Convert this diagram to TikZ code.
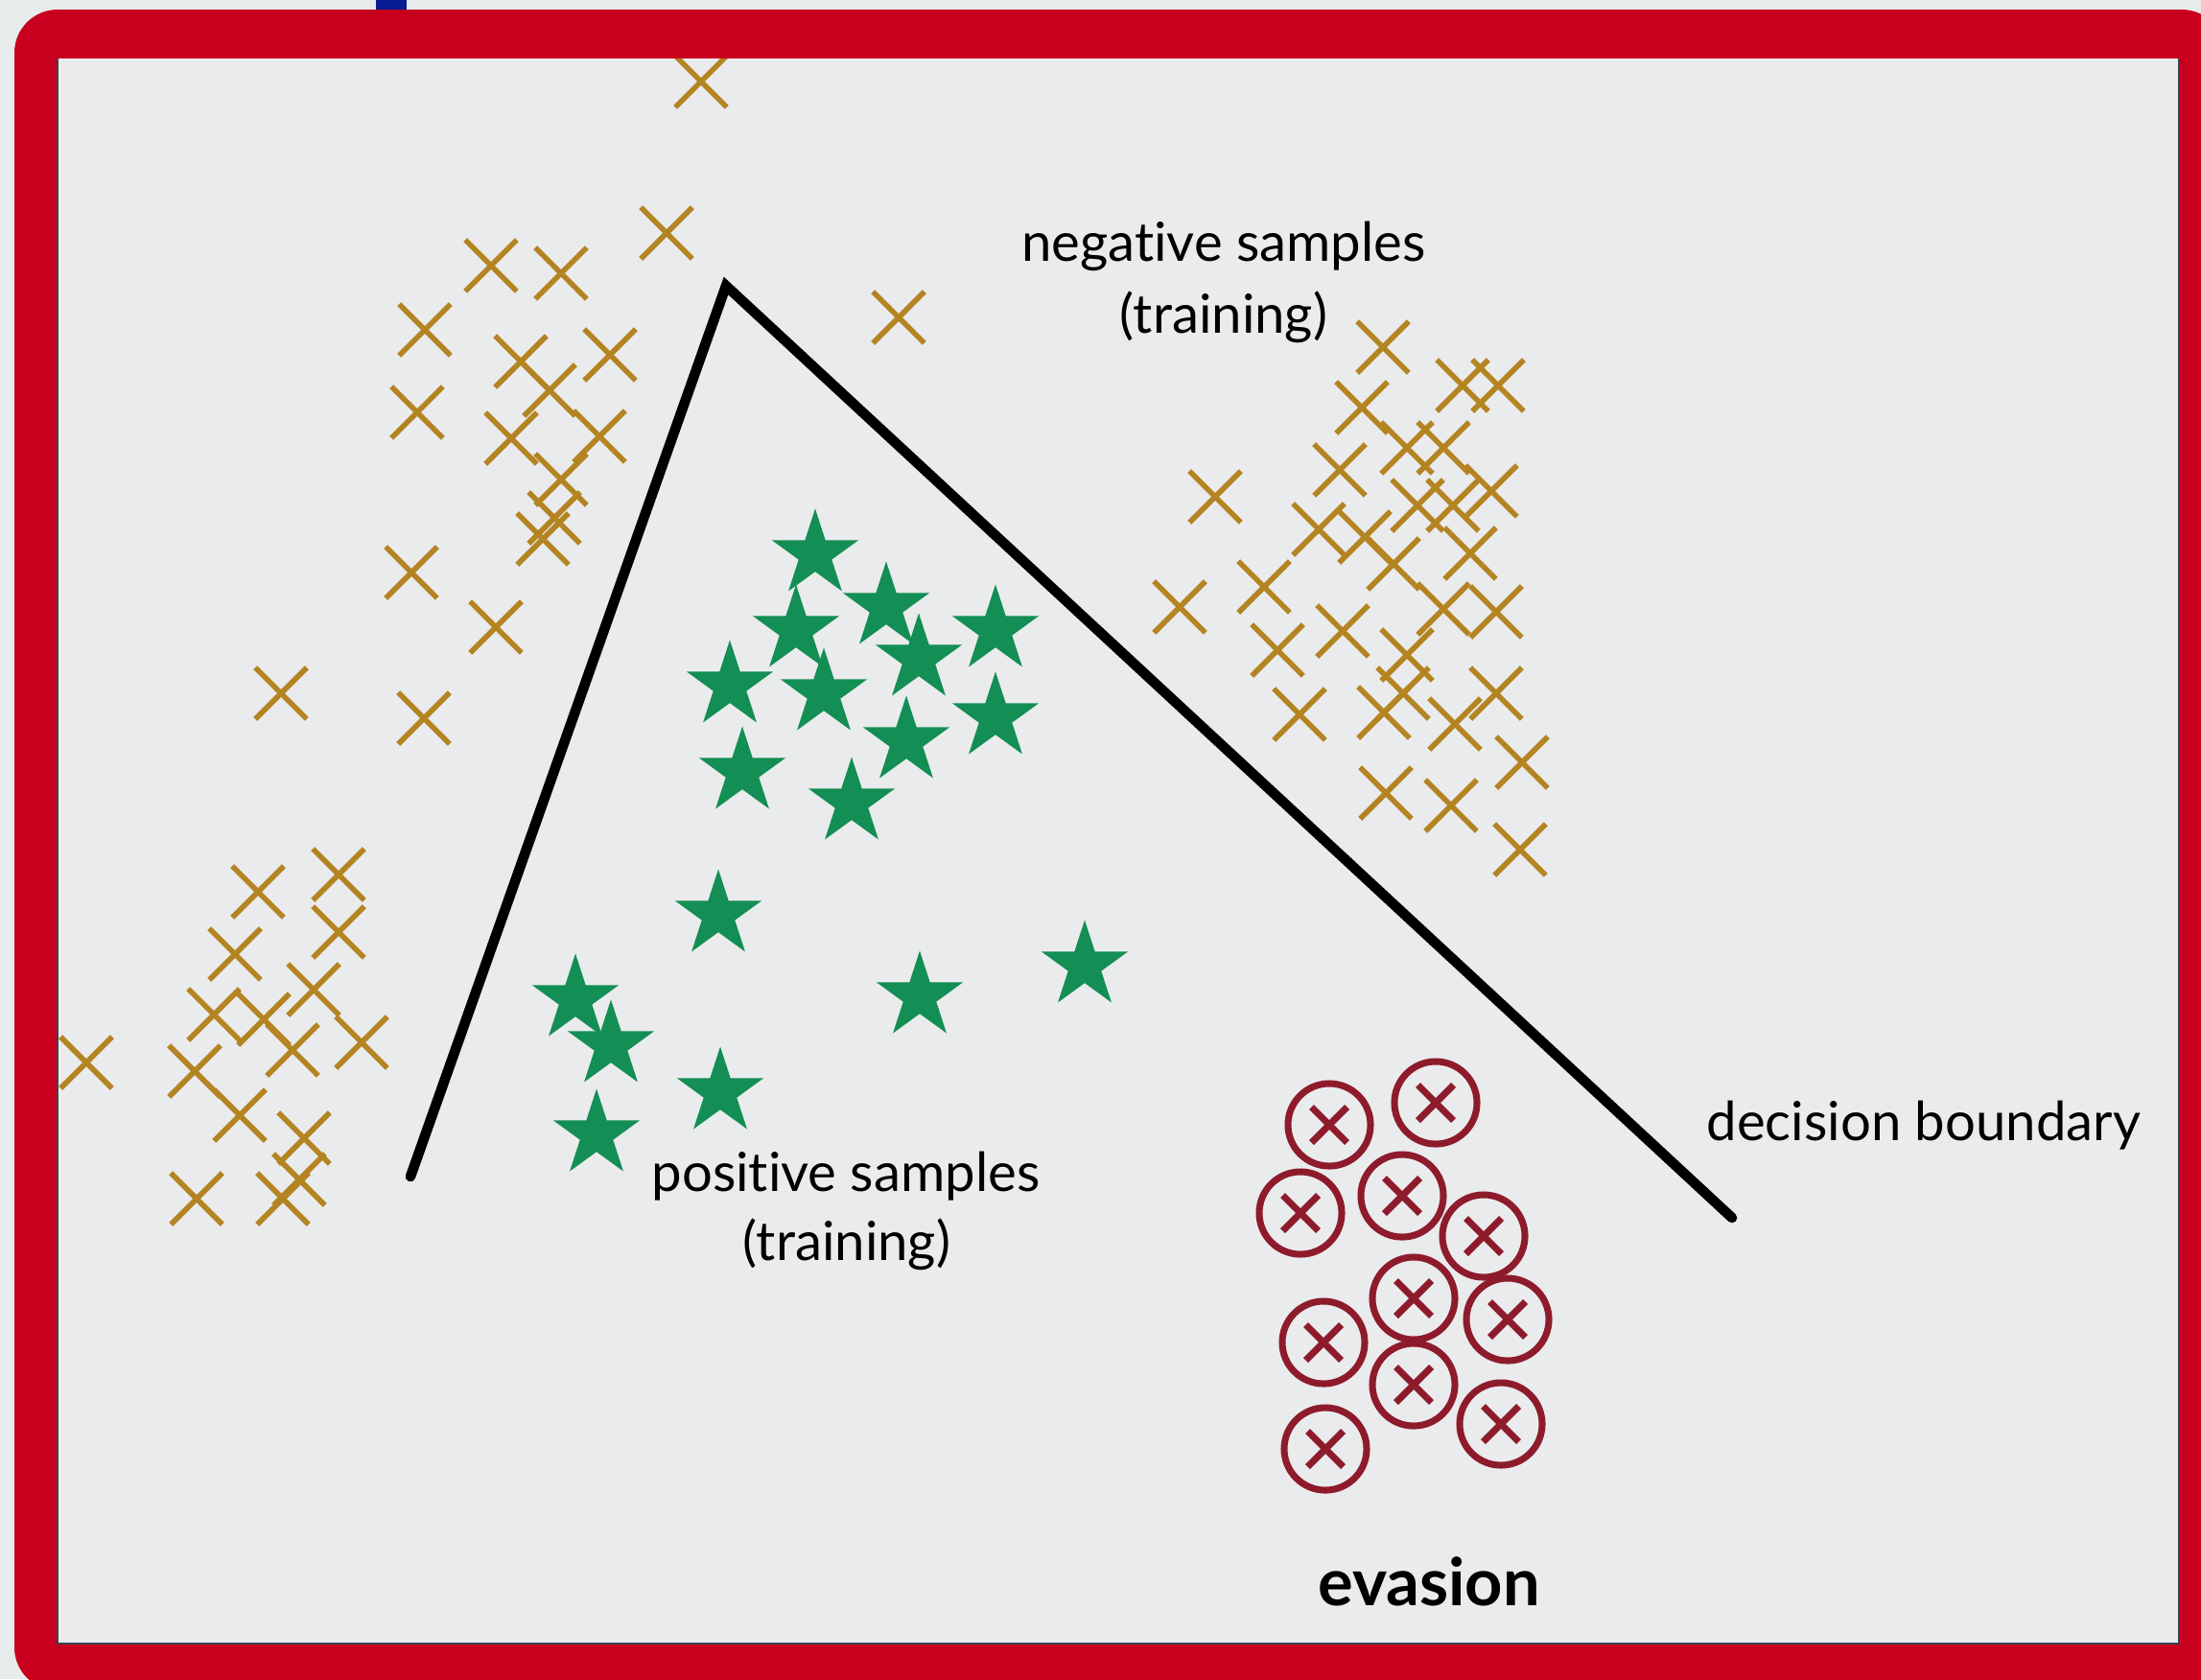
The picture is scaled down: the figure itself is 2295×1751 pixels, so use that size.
\documentclass[tikz,border=0pt]{standalone}
\usepackage{fontspec}
\setmainfont{Lato}[Ligatures=NoCommon]
\usetikzlibrary{shapes.geometric,shapes.misc}
\definecolor{pagebg}{RGB}{232,235,236}
\definecolor{panel}{RGB}{234,235,237}
\definecolor{framered}{RGB}{200,0,30}
\definecolor{panelline}{RGB}{54,69,79}
\definecolor{topblue}{RGB}{8,28,148}
\definecolor{tanx}{RGB}{180,132,34}
\definecolor{stargreen}{RGB}{19,142,84}
\definecolor{evred}{RGB}{142,27,44}
\begin{document}
\begin{tikzpicture}[x=0.01cm, y=-0.01cm]
\tikzstyle{negx}=[cross out, draw=tanx, line width=1.6pt, minimum size=0.48cm, inner sep=0pt]
\tikzstyle{posstar}=[star, star points=5, star point ratio=2.618, fill=stargreen, minimum size=0.95cm, inner sep=0pt]
\tikzstyle{evring}=[circle, draw=evred, line width=2pt, minimum size=0.86cm, inner sep=0pt]
\tikzstyle{evx}=[cross out, draw=evred, line width=2pt, minimum size=0.3cm, inner sep=0pt]
\tikzstyle{tx}=[inner sep=0pt, font=\fontsize{16}{19}\selectfont]
\tikzstyle{bound}=[line width=3pt, line cap=round, line join=miter]

\useasboundingbox (0,0) rectangle (2295,1751);
\fill[pagebg] (0,0) rectangle (2295,1751);
\clip (0,0) rectangle (2295,1751);
\fill[framered, rounded corners=0.45cm] (15,10) rectangle (2320,1763);
\fill[topblue] (392,0) rectangle (424,10);
\fill[panel] (60,61) rectangle (2272,1714);
\draw[panelline, line width=0.5pt] (60,61) -- (60,1714) -- (2272,1714) -- (2272,61);

\begin{scope}
\clip (60,61) rectangle (2272,1714);
% negative samples, upper left
\foreach \p [count=\i] in {(731,85),(695,243),(512,277),(585,285),(443,344),(543,377),
  (636,370),(573,407),(435,430),(533,457),(625,455),(585,500),(578,540),(566,562),
  (429,597),(517,654),(293,723),(442,749),(937,331)}
  \node[negx] (ul\i) at \p {};
% negative samples, lower left
\foreach \p [count=\i] in {(90,1108),(269,930),(353,912),(353,972),(245,995),(327,1032),
  (223,1058),(275,1063),(305,1095),(377,1087),(203,1117),(250,1163),(317,1187),
  (312,1230),(295,1250),(205,1250)}
  \node[negx] (ll\i) at \p {};
% negative samples, right
\foreach \p [count=\i] in {(1442,362),(1525,402),(1562,402),(1420,425),(1467,467),(1505,467),
  (1397,490),(1267,518),(1555,512),(1478,527),(1515,527),(1375,552),(1423,560),
  (1533,577),(1453,588),(1318,612),(1230,633),(1505,635),(1560,638),(1400,658),
  (1332,678),(1467,683),(1463,723),(1560,723),(1355,745),(1443,743),(1517,755),
  (1587,795),(1445,827),(1513,840),(1585,886)}
  \node[negx] (r\i) at \p {};
\end{scope}

% positive samples
\foreach \p [count=\i] in {(850,578),(924,633),(830,657),(1038,657),(958,687),(761,715),
  (859,723),(1038,748),(945,773),(774,805),(888,837),(749,954),(600,1042),(637,1090),
  (751,1139),(622,1183),(959,1039),(1131,1007)}
  \node[posstar] (s\i) at \p {};

% evasion
\foreach \p [count=\i] in {(1386,1173),(1497,1150),(1356,1265),(1462,1247),(1547,1289),
  (1474,1354),(1572,1376),(1380,1400),(1474,1444),(1565,1485),(1382,1511)}
  {\node[evring] (e\i) at \p {};
   \node[evx] (ex\i) at (e\i) {};}

\coordinate (bl) at (428,1227);
\coordinate (apex) at (757,298);
\coordinate (br) at (1806,1270);
\draw[bound] (bl) -- (apex) -- (br);

\node[tx, anchor=base] (neg1) at (1276,272) {negative samples};
\node[tx, anchor=base] (neg2) at (1276,347) {(training)};
\node[tx, anchor=base] (pos1) at (882,1242) {positive samples};
\node[tx, anchor=base] (pos2) at (883,1314) {(training)};
\node[tx, anchor=base west] (db) at (1779,1189) {decision boundary};
\node[tx, anchor=base, font=\fontsize{19.5}{23}\selectfont\bfseries] (ev) at (1490,1674) {evasion};
\end{tikzpicture}
\end{document}
